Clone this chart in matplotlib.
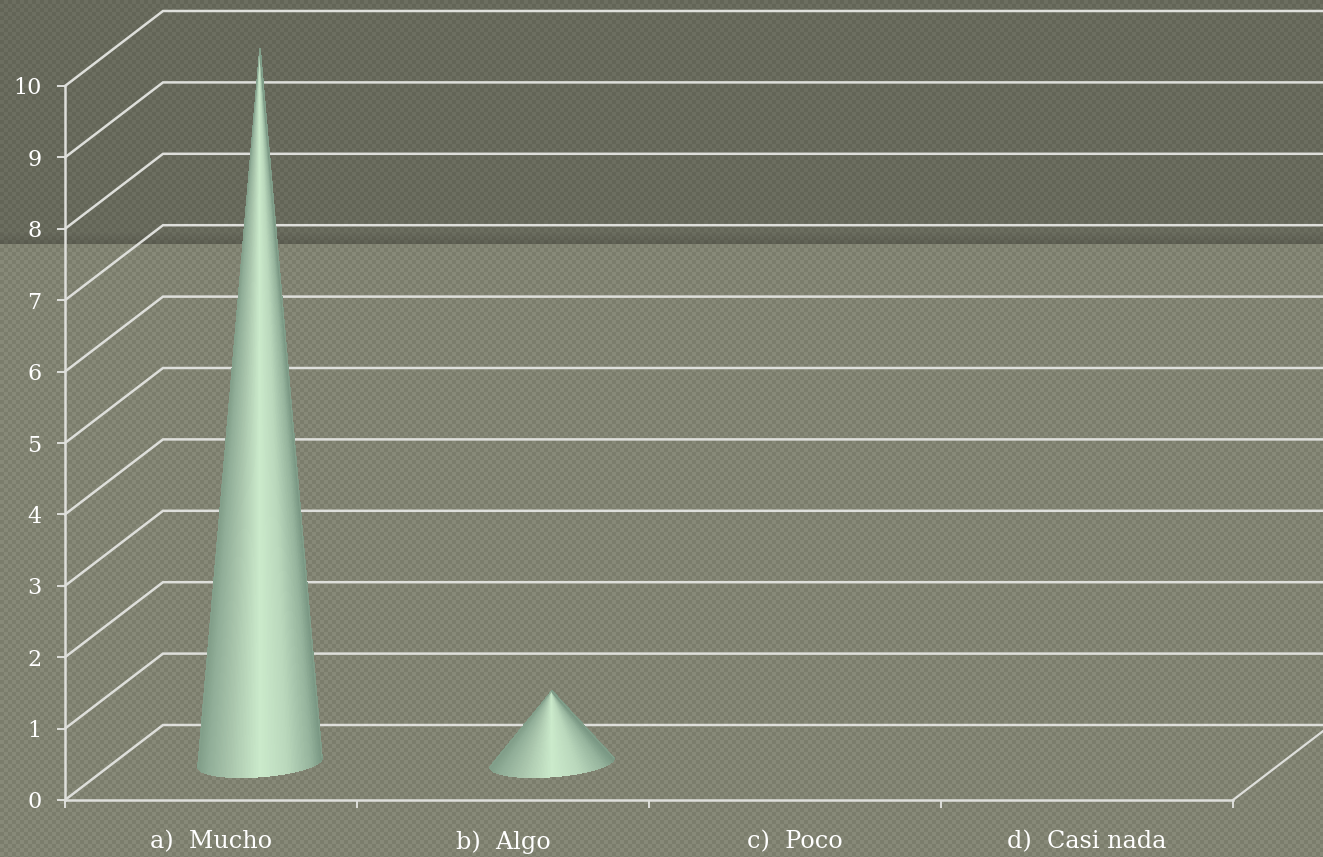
import numpy as np
import matplotlib
matplotlib.use('Agg')
import matplotlib.pyplot as plt
from matplotlib.collections import PolyCollection
from matplotlib.colors import LinearSegmentedColormap

# Data
categories = ['a)  Mucho', 'b)  Algo', 'c)  Poco', 'd)  Casi nada']
values = [10, 1, 0, 0]
y_ticks = list(range(0, 11))

W, H = 1323, 857
GRID = '#dedfdb'

fig = plt.figure(figsize=(W / 100, H / 100), dpi=100)

# background texture, checker of two tones, darker band on top
bg = fig.add_axes([0, 0, 1, 1])
bg.set_axis_off()
yy, xx = np.mgrid[0:H, 0:W]
check = ((xx // 4 + yy // 4) % 2).astype(float)
img = np.zeros((H, W, 3))
low_a, low_b = np.array([0x7b, 0x7d, 0x6c]), np.array([0x87, 0x89, 0x78])
top_a, top_b = np.array([0x63, 0x65, 0x57]), np.array([0x6c, 0x6e, 0x60])
top = yy < 244
img[~top] = (low_a + (low_b - low_a) * check[~top][:, None])
img[top] = (top_a + (top_b - top_a) * check[top][:, None])
# slight shadow just above the band edge
shade = np.clip((yy - 232) / 12.0, 0, 1) * top
img *= (1 - 0.12 * shade)[:, :, None]
bg.imshow(img / 255, extent=[0, W, H, 0], aspect='auto', interpolation='nearest')

# plot area: 4 categories across 65..1233 px, values 0..10 across 800..86 px
ax = fig.add_axes([65 / W, 1 - 800 / H, 1168 / W, 714 / H])
ax.patch.set_alpha(0)
ax.set_xlim(0, 4)
ax.set_ylim(0, 10)

depth_x = 98 / 292  # depth of the 3d box in category units
depth_y = 75 / 71.4  # and in value units

for v in y_ticks:
    ax.plot([0, depth_x, 4 + depth_x + 0.1], [v, v + depth_y, v + depth_y],
            color=GRID, lw=1.8, clip_on=False, solid_joinstyle='miter', zorder=2)
ax.plot([4, 4 + depth_x], [0, depth_y], color=GRID, lw=1.6, clip_on=False, zorder=2)

for s in ['top', 'right']:
    ax.spines[s].set_visible(False)
for s in ['left', 'bottom']:
    ax.spines[s].set_color(GRID)
    ax.spines[s].set_linewidth(1.8)
ax.set_yticks(y_ticks)
ax.set_xticks(range(5))
ax.set_xticklabels([])
ax.tick_params(axis='both', color=GRID, width=1.4, length=6, direction='out')
ax.tick_params(axis='y', labelcolor='white', labelsize=16, pad=11)
for lab in ax.get_yticklabels():
    lab.set_family('DejaVu Serif')

for i, name in enumerate(categories):
    ax.text(i + 0.5, -0.59, name, color='white', fontsize=17.2, ha='center', va='center',
            family='DejaVu Serif', clip_on=False)

# cones
cone_cmap = LinearSegmentedColormap.from_list('cone', [
    (0.00, '#7f9c87'), (0.08, '#90ad97'), (0.25, '#a8c4ab'), (0.50, '#cbeacb'),
    (0.72, '#bad8bc'), (0.92, '#95b39c'), (1.00, '#7a9884')])

rad_u = (62 / 292, 4.5 / 71.4)   # base ellipse, long half axis
rad_v = (0, 14 / 71.4)           # base ellipse, short half axis
theta = np.linspace(np.pi, 2 * np.pi, 121)

for i, val in enumerate(values):
    if val <= 0:
        continue
    cx = i + 0.5 + depth_x / 2
    cy = depth_y / 2
    bx = cx + rad_u[0] * np.cos(theta) + rad_v[0] * np.sin(theta)
    by = cy + rad_u[1] * np.cos(theta) + rad_v[1] * np.sin(theta)
    polys = [[(cx, cy + val), (bx[k], by[k]), (bx[k + 1], by[k + 1])] for k in range(len(theta) - 1)]
    shades = (1 - np.cos(theta[:-1] - np.pi)) / 2
    cols = cone_cmap(shades)
    pc = PolyCollection(polys, facecolors=cols, edgecolors=cols, linewidths=0.5,
                        antialiaseds=False, clip_on=False, zorder=3)
    ax.add_collection(pc)
    # soft outline along the sides hides the stairs of the slices
    ax.plot([bx[0], cx, bx[-1]], [by[0], cy + val, by[-1]], color='#86a38e', lw=0.6,
            clip_on=False, zorder=4)

fig.savefig('out.png', dpi=100)
